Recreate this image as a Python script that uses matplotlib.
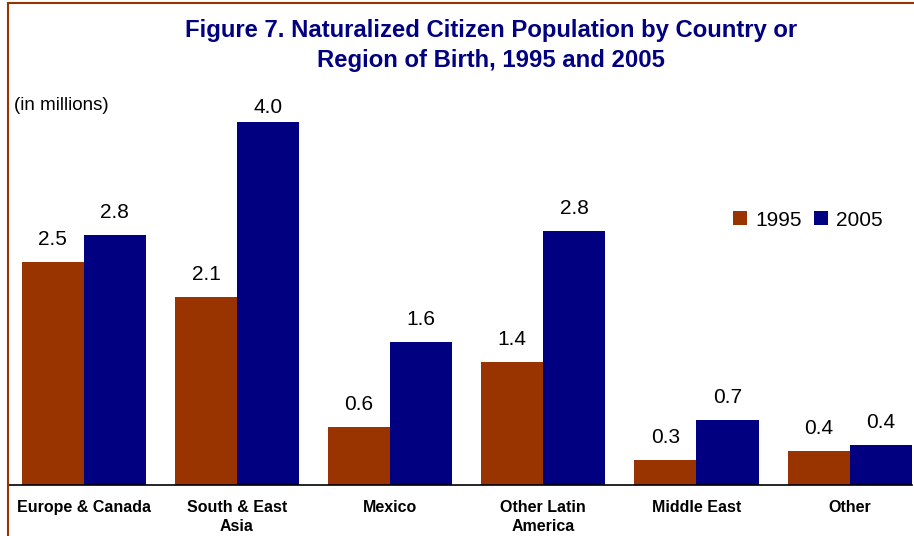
import numpy as np
import matplotlib.pyplot as plt
from matplotlib.patches import Rectangle

plt.rcParams['font.family'] = ['Liberation Sans', 'DejaVu Sans']

# Data (millions)
regions = ['Europe & Canada', 'South & East\nAsia', 'Mexico',
           'Other Latin\nAmerica', 'Middle East', 'Other']
v1995 = [2.46, 2.07, 0.64, 1.36, 0.28, 0.37]
v2005 = [2.76, 4.00, 1.58, 2.80, 0.72, 0.44]

brown = '#993300'
navy = '#000080'

W, H = 914, 536
fig = plt.figure(figsize=(W / 100, H / 100), dpi=100)

# Plot area in pixel terms
ax_l, ax_r, ax_b, ax_t = 8, 912, 485, 98
ax = fig.add_axes([ax_l / W, 1 - ax_b / H, (ax_r - ax_l) / W, (ax_b - ax_t) / H])

ppu = 90.7  # pixels per million
ytop = (ax_b - ax_t) / ppu
x = np.arange(len(regions))
w = 0.405

ax.bar(x - w / 2, v1995, w, color=brown, label='1995', linewidth=0)
ax.bar(x + w / 2, v2005, w, color=navy, label='2005', linewidth=0)

ax.set_xlim(-0.495, 5.407)
ax.set_ylim(0, ytop)

# value labels above bars (kept inside plot area)
off = 17 / ppu
cap = ytop - 15 / ppu
for xs, vals in [(x - w / 2, v1995), (x + w / 2, v2005)]:
    for xi, v in zip(xs, vals):
        ax.text(xi, min(v + off, cap), '%.1f' % v, ha='center', va='baseline',
                fontsize=15, color='black')

for s in ['top', 'right', 'left']:
    ax.spines[s].set_visible(False)
ax.spines['bottom'].set_linewidth(1.2)
ax.set_yticks([])
ax.set_xticks(x)
ax.set_xticklabels(regions, fontsize=11.5, fontweight='bold', linespacing=1.35)
ax.tick_params(axis='x', length=0, pad=11)

ax.legend(loc='center', bbox_to_anchor=(808 / W, 1 - 220 / H),
          bbox_transform=fig.transFigure, ncol=2, frameon=False, fontsize=15,
          handlelength=0.65, handleheight=0.65, handletextpad=0.4,
          columnspacing=0.6)

# Titles
tcol = '#000080'
fig.text(491 / W, 1 - 30 / H, 'Figure 7. Naturalized Citizen Population by Country or',
         ha='center', va='center', fontsize=17.2, fontweight='bold', color=tcol)
fig.text(491 / W, 1 - 60 / H, 'Region of Birth, 1995 and 2005',
         ha='center', va='center', fontsize=17.2, fontweight='bold', color=tcol)
fig.text(14 / W, 1 - 105 / H, '(in millions)', ha='left', va='center', fontsize=13.5)

# border frame
fig.patches.append(Rectangle((8 / W, -0.1), 1.2, 1.1 - 3 / H, transform=fig.transFigure,
                             fill=False, edgecolor=brown, linewidth=1.5))

fig.savefig('out.png', dpi=100)
